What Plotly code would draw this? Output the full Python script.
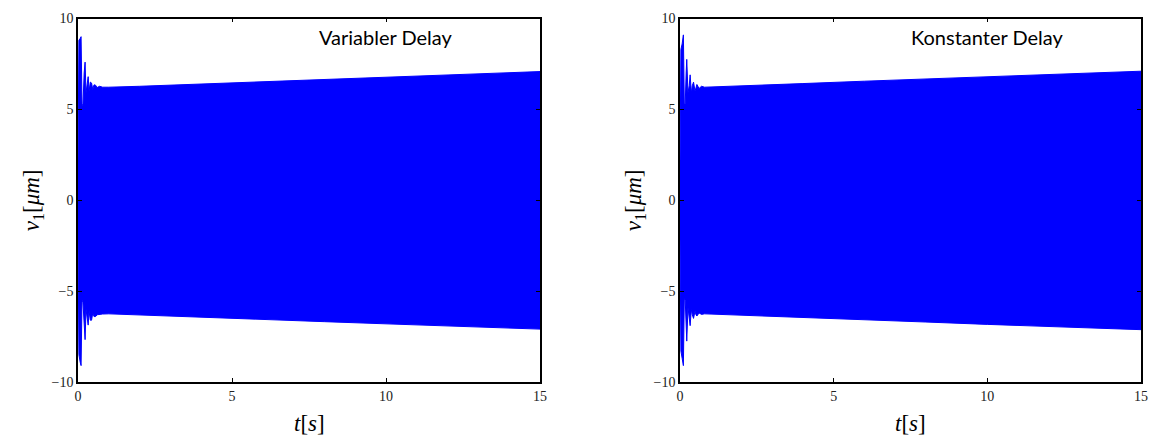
import plotly.graph_objects as go

# ---- data (envelope of the dense oscillation) ----
t_left = [0.0, 0.03, 0.07, 0.10, 0.13, 0.16, 0.20, 0.23, 0.26, 0.30, 0.33, 0.36,
          0.40, 0.44, 0.48, 0.52, 0.57, 0.62, 0.70, 0.80, 1.0, 2.0, 4.0, 6.0,
          8.0, 10.0, 12.0, 14.0, 15.0]
upper_left = [2.0, 8.8, 8.9, 9.0, 5.3, 5.2, 7.0, 7.6, 5.9, 6.3, 6.8, 6.0,
              6.5, 6.45, 6.1, 6.35, 6.33, 6.2, 6.27, 6.22, 6.22, 6.27, 6.4, 6.52,
              6.65, 6.78, 6.9, 7.02, 7.08]
lower_left = [-2.0, -8.5, -8.9, -9.1, -5.5, -5.6, -7.0, -7.67, -6.0, -6.3, -6.87, -6.1,
              -6.6, -6.6, -6.2, -6.4, -6.4, -6.3, -6.3, -6.26, -6.25, -6.3, -6.42, -6.55,
              -6.68, -6.8, -6.93, -7.04, -7.09]

t_right = [0.0, 0.03, 0.07, 0.11, 0.14, 0.17, 0.20, 0.22, 0.26, 0.30, 0.33, 0.37,
           0.40, 0.44, 0.49, 0.52, 0.55, 0.62, 0.70, 0.80, 1.0, 2.0, 4.0, 6.0,
           8.0, 10.0, 12.0, 14.0, 15.0]
upper_right = [2.0, 8.3, 8.6, 9.1, 5.3, 5.3, 7.0, 7.75, 5.9, 6.3, 6.9, 5.9,
               6.3, 6.5, 6.0, 6.3, 6.37, 6.15, 6.27, 6.22, 6.23, 6.28, 6.42, 6.55,
               6.68, 6.8, 6.93, 7.05, 7.1]
lower_right = [-2.0, -8.3, -8.7, -9.1, -5.4, -5.5, -7.0, -7.75, -5.9, -6.3, -6.9, -6.0,
               -6.3, -6.5, -6.1, -6.3, -6.37, -6.2, -6.28, -6.25, -6.25, -6.3, -6.44, -6.57,
               -6.7, -6.83, -6.96, -7.07, -7.12]

x_ticks = [0, 5, 10, 15]
y_ticks = [-10, -5, 0, 5, 10]
titles = ["Variabler Delay", "Konstanter Delay"]

BLUE = "#0000ff"
W, H = 1160, 441

fig = go.Figure()

def band(t, up, lo, xa, ya):
    fig.add_trace(go.Scatter(
        x=list(t) + list(t[::-1]),
        y=list(up) + list(lo[::-1]),
        fill="toself", fillcolor=BLUE,
        line=dict(color=BLUE, width=1),
        mode="lines", hoverinfo="skip", showlegend=False,
        xaxis=xa, yaxis=ya))

band(t_left, upper_left, lower_left, "x", "y")
band(t_right, upper_right, lower_right, "x2", "y2")

axis_common = dict(
    showgrid=False, zeroline=False, showline=True, linecolor="black", linewidth=1.5,
    mirror="ticks", ticks="inside", ticklen=4, tickcolor="black", tickwidth=1,
    automargin=False,
    tickfont=dict(family="Liberation Serif, DejaVu Serif, serif", size=14, color="#222"),
)

lx = [78 / W, 540 / W]
rx = [680 / W, 1141 / W]
ydom = [1 - 382 / H, 1 - 18.5 / H]

fig.update_layout(
    width=W, height=H,
    margin=dict(l=0, r=0, t=0, b=0, autoexpand=False),
    paper_bgcolor="white", plot_bgcolor="white",
    xaxis=dict(domain=lx, range=[0, 15], tickvals=x_ticks, anchor="y", **axis_common),
    yaxis=dict(domain=ydom, range=[-10, 10], tickvals=y_ticks, anchor="x", **axis_common),
    xaxis2=dict(domain=rx, range=[0, 15], tickvals=x_ticks, anchor="y2", **axis_common),
    yaxis2=dict(domain=ydom, range=[-10, 10], tickvals=y_ticks, anchor="x2", **axis_common),
)

serif = "Liberation Serif, DejaVu Serif, serif"
sans = "Lato, DejaVu Sans, sans-serif"

for i, (dom, xref, yref) in enumerate([(lx, "x", "y"), (rx, "x2", "y2")]):
    # in-plot label
    fig.add_annotation(x=10, y=9.0, xref=xref, yref=yref, text=titles[i],
                       showarrow=False, font=dict(family=sans, size=20, color="black"),
                       xanchor="center", yanchor="middle")
    # x label
    fig.add_annotation(x=(dom[0] + dom[1]) / 2, y=1 - 423 / H, xref="paper", yref="paper",
                       text="<i>t</i>[<i>s</i>]", showarrow=False,
                       font=dict(family=serif, size=23, color="black"),
                       xanchor="center", yanchor="middle")
    # y label
    fig.add_annotation(x=dom[0] - 45 / W, y=(ydom[0] + ydom[1]) / 2, xref="paper", yref="paper",
                       text="<i>v</i><sub>1</sub>[<i>μm</i>]", showarrow=False, textangle=-90,
                       font=dict(family=serif, size=23, color="black"),
                       xanchor="center", yanchor="middle")

fig.write_html("out.html")
